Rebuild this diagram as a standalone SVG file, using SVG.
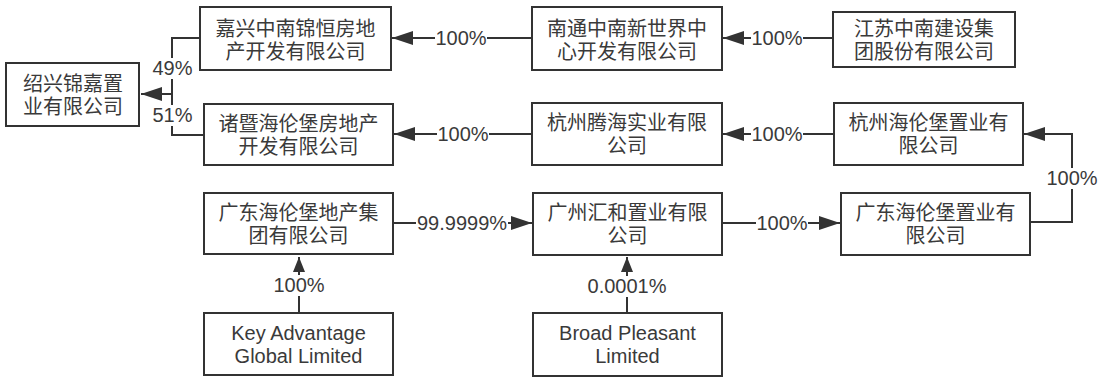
<svg xmlns="http://www.w3.org/2000/svg" width="1107" height="378" viewBox="0 0 1107 378">
<defs>
<style>
.box{fill:#fff;stroke:#333;stroke-width:2}
.t{font-family:"Liberation Sans","Noto Sans CJK SC",sans-serif;font-size:20px;fill:#3a3a3a;text-anchor:middle;dominant-baseline:central}
.c{fill:none;stroke:#333;stroke-width:2}
.lb{fill:#fff}
</style>
<marker id="ah" viewBox="0 0 21 14" refX="21" refY="7" markerWidth="21" markerHeight="14" markerUnits="userSpaceOnUse" orient="auto">
<path d="M0,0 L21,7 L0,14 Z" fill="#333"/>
</marker>
<marker id="av" viewBox="0 0 15 12" refX="15" refY="6" markerWidth="15" markerHeight="12" markerUnits="userSpaceOnUse" orient="auto">
<path d="M0,0 L15,6 L0,12 Z" fill="#333"/>
</marker>
</defs>
<rect width="1107" height="378" fill="#fff"/>
<g id="connectors">
<path class="c" d="M200,38 H172 V94"/>
<path class="c" d="M204,135 H172 V94 H141" marker-end="url(#ah)"/>
<path class="c" d="M532,38 H392" marker-end="url(#ah)"/>
<path class="c" d="M833,38 H723" marker-end="url(#ah)"/>
<path class="c" d="M532,134 H394" marker-end="url(#ah)"/>
<path class="c" d="M834,134 H723" marker-end="url(#ah)"/>
<path class="c" d="M393,223 H532" marker-end="url(#ah)"/>
<path class="c" d="M722,223 H840" marker-end="url(#ah)"/>
<path class="c" d="M1030,222 H1072 V134 H1024" marker-end="url(#ah)"/>
<path class="c" d="M299,313 V257" marker-end="url(#av)"/>
<path class="c" d="M627,313 V257" marker-end="url(#av)"/>
<rect class="lb" x="152" y="58" width="41" height="21"/>
<text class="t" x="172.5" y="68">49%</text>
<rect class="lb" x="152" y="105" width="41" height="21"/>
<text class="t" x="172.5" y="115">51%</text>
<rect class="lb" x="435" y="28" width="52" height="21"/>
<text class="t" x="461" y="38">100%</text>
<rect class="lb" x="751" y="28" width="52" height="21"/>
<text class="t" x="777" y="38">100%</text>
<rect class="lb" x="437" y="124" width="52" height="21"/>
<text class="t" x="463" y="134">100%</text>
<rect class="lb" x="751" y="124" width="52" height="21"/>
<text class="t" x="777" y="134">100%</text>
<rect class="lb" x="416" y="213" width="92" height="21"/>
<text class="t" x="462" y="223">99.9999%</text>
<rect class="lb" x="756" y="213" width="52" height="21"/>
<text class="t" x="782" y="223">100%</text>
<rect class="lb" x="1046" y="168" width="52" height="21"/>
<text class="t" x="1072" y="178">100%</text>
<rect class="lb" x="273" y="275" width="52" height="21"/>
<text class="t" x="299" y="285">100%</text>
<rect class="lb" x="587" y="276" width="80" height="21"/>
<text class="t" x="627" y="286">0.0001%</text>
</g>
<g id="n-shaoxing">
<rect class="box" x="6" y="63" width="133" height="63"/>
<text class="t" x="73" y="84">绍兴锦嘉置</text>
<text class="t" x="73" y="107">业有限公司</text>
</g>
<g id="n-jiaxing">
<rect class="box" x="200" y="7" width="191" height="63"/>
<text class="t" x="295.5" y="29">嘉兴中南锦恒房地</text>
<text class="t" x="295.5" y="52">产开发有限公司</text>
</g>
<g id="n-nantong">
<rect class="box" x="532" y="7" width="190" height="63"/>
<text class="t" x="627" y="29">南通中南新世界中</text>
<text class="t" x="627" y="52">心开发有限公司</text>
</g>
<g id="n-jiangsu">
<rect class="box" x="833" y="12" width="182" height="55"/>
<text class="t" x="924" y="29">江苏中南建设集</text>
<text class="t" x="924" y="52">团股份有限公司</text>
</g>
<g id="n-zhuji">
<rect class="box" x="204" y="104" width="189" height="61"/>
<text class="t" x="298.5" y="124">诸暨海伦堡房地产</text>
<text class="t" x="298.5" y="147">开发有限公司</text>
</g>
<g id="n-hztenghai">
<rect class="box" x="532" y="103" width="190" height="62"/>
<text class="t" x="627" y="123">杭州腾海实业有限</text>
<text class="t" x="627" y="146">公司</text>
</g>
<g id="n-hzhailunbao">
<rect class="box" x="834" y="103" width="189" height="62"/>
<text class="t" x="928.5" y="123">杭州海伦堡置业有</text>
<text class="t" x="928.5" y="146">限公司</text>
</g>
<g id="n-gdgroup">
<rect class="box" x="204" y="193" width="189" height="61"/>
<text class="t" x="298.5" y="213">广东海伦堡地产集</text>
<text class="t" x="298.5" y="236">团有限公司</text>
</g>
<g id="n-gzhuihe">
<rect class="box" x="533" y="193" width="189" height="62"/>
<text class="t" x="627.5" y="213">广州汇和置业有限</text>
<text class="t" x="627.5" y="236">公司</text>
</g>
<g id="n-gdzhiye">
<rect class="box" x="841" y="193" width="189" height="62"/>
<text class="t" x="935.5" y="213">广东海伦堡置业有</text>
<text class="t" x="935.5" y="236">限公司</text>
</g>
<g id="n-keyadv">
<rect class="box" x="204" y="313" width="189" height="62"/>
<text class="t" x="298.5" y="333">Key Advantage</text>
<text class="t" x="298.5" y="356">Global Limited</text>
</g>
<g id="n-broad">
<rect class="box" x="533" y="313" width="189" height="63"/>
<text class="t" x="627.5" y="333">Broad Pleasant</text>
<text class="t" x="627.5" y="356">Limited</text>
</g>
</svg>
